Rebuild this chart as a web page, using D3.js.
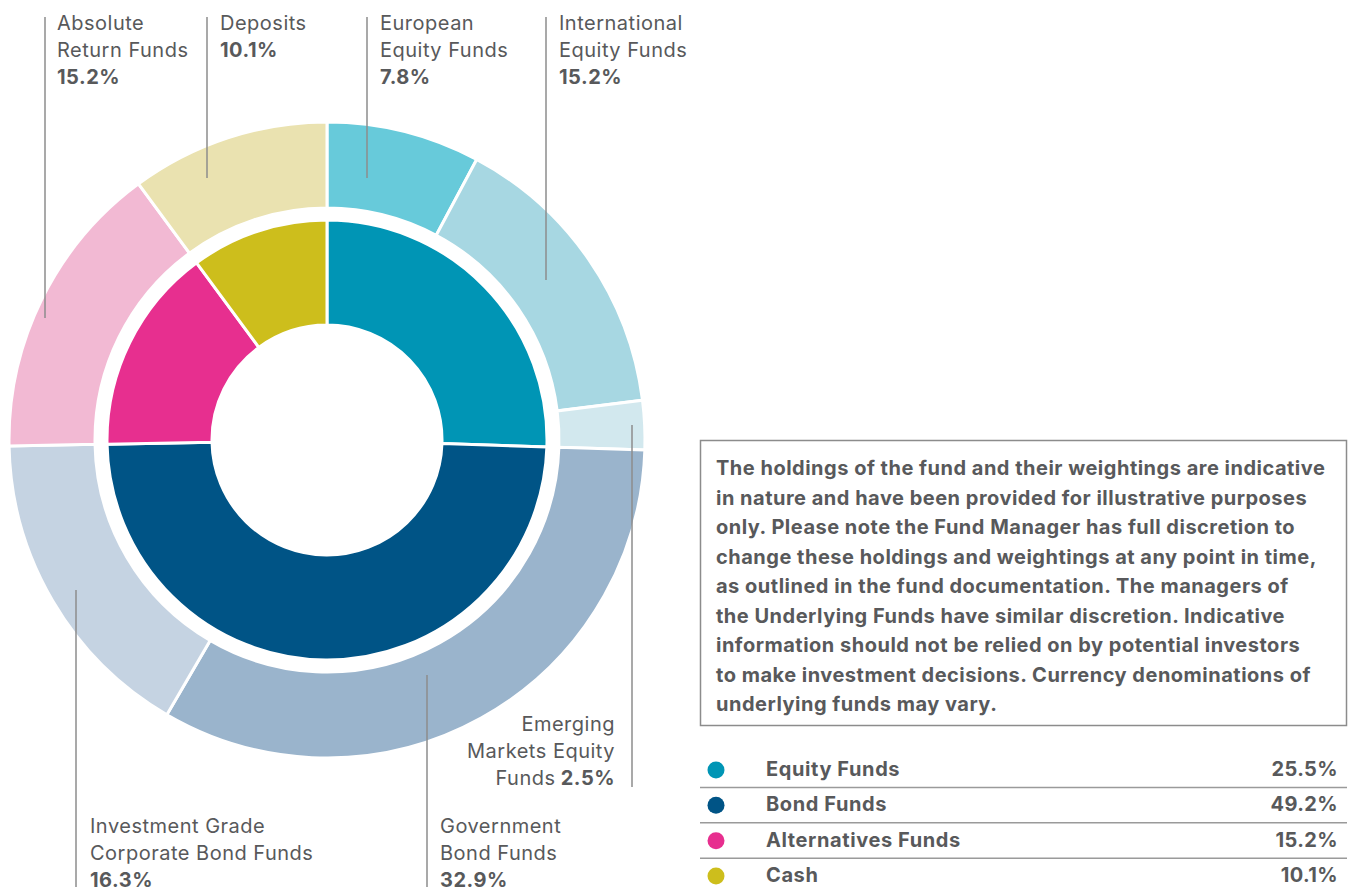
<!DOCTYPE html>
<html>
<head>
<meta charset="utf-8">
<script src="https://cdn.jsdelivr.net/npm/d3@7"></script>
<style>
  body { margin: 0; background: #fff; }
  svg { display: block; font-family: Inter, "Open Sans", sans-serif; }
</style>
</head>
<body>
<svg id="chart" width="1352" height="887"></svg>
<script>
// outer ring: underlying funds, clockwise from 12 o'clock
const subNames = ["European Equity Funds", "International Equity Funds", "Emerging Markets Equity Funds",
  "Government Bond Funds", "Investment Grade Corporate Bond Funds", "Absolute Return Funds", "Deposits"];
const subValues = [7.8, 15.2, 2.5, 32.9, 16.3, 15.2, 10.1];
const subColors = ["#67cada", "#a7d7e2", "#d2e8ee", "#9ab4cc", "#c5d3e2", "#f2b9d3", "#eae2b0"];

// inner ring: asset classes
const classNames = ["Equity Funds", "Bond Funds", "Alternatives Funds", "Cash"];
const classValues = [25.5, 49.2, 15.2, 10.1];
const classColors = ["#0095b5", "#005486", "#e72f8f", "#cdbe1c"];

const note = ["The holdings of the fund and their weightings are indicative",
  "in nature and have been provided for illustrative purposes",
  "only. Please note the Fund Manager has full discretion to",
  "change these holdings and weightings at any point in time,",
  "as outlined in the fund documentation. The managers of",
  "the Underlying Funds have similar discretion. Indicative",
  "information should not be relied on by potential investors",
  "to make investment decisions. Currency denominations of",
  "underlying funds may vary."];

// label placement (layout only): text lines, x, anchor, baseline of first line, leader line
const labels = [
  {i: 5, lines: ["Absolute", "Return Funds"], x: 57, y: 30, lx: 45, ly0: 17, ly1: 318},
  {i: 6, lines: ["Deposits"], x: 220, y: 30, lx: 207, ly0: 17, ly1: 178},
  {i: 0, lines: ["European", "Equity Funds"], x: 380, y: 30, lx: 367, ly0: 17, ly1: 178},
  {i: 1, lines: ["International", "Equity Funds"], x: 559, y: 30, lx: 546, ly0: 17, ly1: 280},
  {i: 2, lines: ["Emerging", "Markets Equity", "Funds"], x: 615, y: 731, anchor: "end", inline: true, lx: 632, ly0: 425, ly1: 787},
  {i: 3, lines: ["Government", "Bond Funds"], x: 440, y: 833, lx: 427, ly0: 675, ly1: 887},
  {i: 4, lines: ["Investment Grade", "Corporate Bond Funds"], x: 90, y: 833, lx: 76, ly0: 590, ly1: 887}
];

const svg = d3.select("#chart");
const cx = 327, cy = 440;
const g = svg.append("g").attr("transform", `translate(${cx},${cy})`);

const pie = d3.pie().sort(null).value(d => d);

const outerArc = d3.arc().innerRadius(232).outerRadius(318);
const innerArc = d3.arc().innerRadius(115).outerRadius(220);

g.selectAll("path.outer")
  .data(pie(subValues))
  .enter()
  .append("path")
  .attr("class", "outer")
  .attr("d", outerArc)
  .attr("fill", (d, i) => subColors[i])
  .attr("stroke", "#fff")
  .attr("stroke-width", 3);

g.selectAll("path.inner")
  .data(pie(classValues))
  .enter()
  .append("path")
  .attr("class", "inner")
  .attr("d", innerArc)
  .attr("fill", (d, i) => classColors[i])
  .attr("stroke", "#fff")
  .attr("stroke-width", 3);

const textColor = "#58595b";
const lineH = 27;

labels.forEach(l => {
  svg.append("line")
    .attr("x1", l.lx).attr("x2", l.lx)
    .attr("y1", l.ly0).attr("y2", l.ly1)
    .attr("stroke", "#8c8c8c")
    .attr("stroke-width", 1.5);

  const t = svg.append("text")
    .attr("fill", textColor)
    .attr("font-size", 20)
    .attr("letter-spacing", 0.5)
    .attr("text-anchor", l.anchor || "start");
  const pct = d3.format(".1f")(subValues[l.i]) + "%";
  l.lines.forEach((s, k) => {
    t.append("tspan").attr("x", l.x).attr("y", l.y + k * lineH).text(s);
    if (l.inline && k === l.lines.length - 1) {
      t.append("tspan").attr("font-weight", 700).text(" " + pct);
    }
  });
  if (!l.inline) {
    t.append("tspan").attr("x", l.x).attr("y", l.y + l.lines.length * lineH)
      .attr("font-weight", 700).text(pct);
  }
});

// disclaimer box
svg.append("rect")
  .attr("x", 700.5).attr("y", 440.5)
  .attr("width", 646).attr("height", 285)
  .attr("fill", "none")
  .attr("stroke", "#8c8c8c")
  .attr("stroke-width", 1.5);

svg.append("text")
  .attr("fill", textColor)
  .attr("font-size", 20)
  .attr("letter-spacing", 0.5)
  .attr("font-weight", 700)
  .selectAll("tspan")
  .data(note)
  .enter()
  .append("tspan")
  .attr("x", 716)
  .attr("y", (d, i) => 475 + i * 29.5)
  .text(d => d);

// legend table
const rowY = d3.scalePoint().domain(classNames).range([769, 875]);

const rows = svg.append("g").selectAll("g")
  .data(classNames)
  .enter()
  .append("g")
  .attr("transform", d => `translate(0,${rowY(d)})`);

rows.append("circle")
  .attr("cx", 716).attr("cy", 1)
  .attr("r", 8.5)
  .attr("fill", (d, i) => classColors[i]);

rows.append("text")
  .attr("x", 766).attr("y", 7)
  .attr("font-size", 20)
  .attr("letter-spacing", 0.6)
  .attr("font-weight", 700)
  .attr("fill", textColor)
  .text(d => d);

rows.append("text")
  .attr("x", 1338).attr("y", 7)
  .attr("text-anchor", "end")
  .attr("font-size", 20)
  .attr("letter-spacing", 0.4)
  .attr("font-weight", 700)
  .attr("fill", textColor)
  .text((d, i) => d3.format(".1f")(classValues[i]) + "%");

rows.filter((d, i) => i < classNames.length - 1)
  .append("line")
  .attr("x1", 700).attr("x2", 1347)
  .attr("y1", 18.5).attr("y2", 18.5)
  .attr("stroke", "#9a9a9a")
  .attr("stroke-width", 1.5);
</script>
</body>
</html>
